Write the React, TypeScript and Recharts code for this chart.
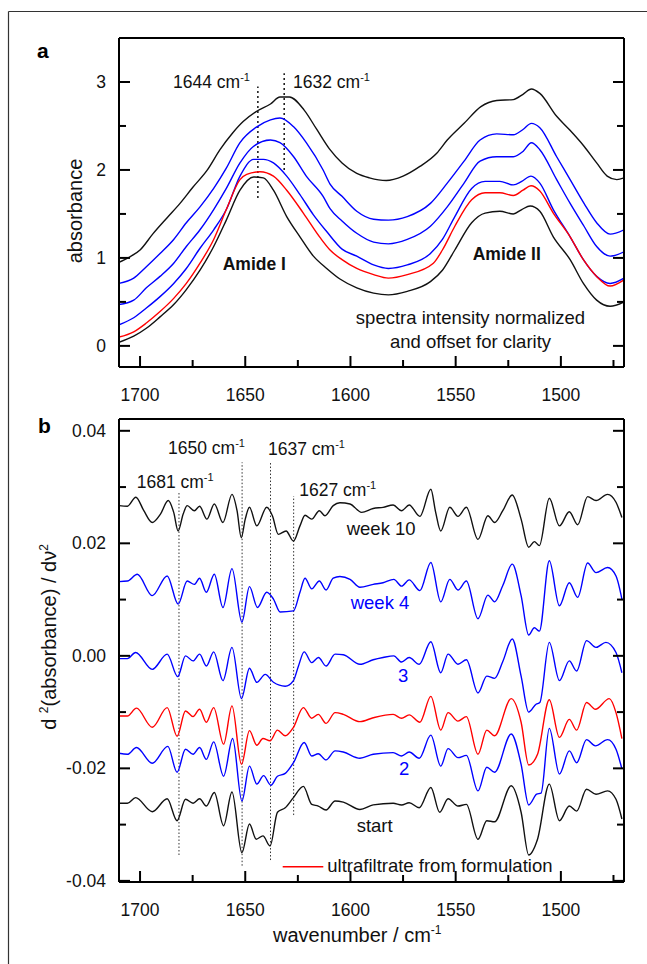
import React from 'react'
import { Line, LineChart, ReferenceLine, XAxis, YAxis } from 'recharts'

const FONT = '"Liberation Sans", Arial, Helvetica, sans-serif'
const INK = '#111111'
const BLUE = '#0000ff'
const RED = '#ff0000'

// axis ticks
const waveTicks = [1700, 1675, 1650, 1625, 1600, 1575, 1550, 1525, 1500, 1475]
const absTicks = [0, 0.5, 1, 1.5, 2, 2.5, 3]
const derivTicks = [-0.04, -0.03, -0.02, -0.01, 0, 0.01, 0.02, 0.03, 0.04]

type Pt = [number, number]

// panel a: absorbance spectra (wavenumber, absorbance)
const absTop: Pt[] = [
  [1710, 0.95], [1705, 1.01], [1700, 1.09], [1694, 1.27], [1687, 1.46], [1681, 1.62], [1675, 1.8],
  [1668, 2.0], [1662, 2.23], [1656, 2.42], [1651, 2.55], [1645, 2.66], [1638, 2.75], [1633.5, 2.83],
  [1629, 2.83], [1622, 2.68], [1616, 2.46], [1610, 2.24], [1604, 2.08], [1597, 1.96], [1591, 1.91],
  [1583, 1.88], [1575, 1.93], [1567, 2.04], [1559, 2.19], [1554, 2.34], [1546, 2.53], [1538, 2.72],
  [1530.5, 2.79], [1522.6, 2.8], [1518, 2.86], [1514, 2.92], [1510, 2.87], [1502, 2.61], [1496, 2.46],
  [1489, 2.27], [1483, 2.08], [1478, 1.93], [1473.4, 1.89], [1470, 1.91],
]
const absBlue1: Pt[] = [
  [1710, 0.71], [1703, 0.77], [1697, 0.9], [1690.5, 1.05], [1684, 1.21], [1678, 1.4], [1671.5, 1.58],
  [1665, 1.79], [1659, 2.02], [1652.5, 2.31], [1644.5, 2.49], [1638, 2.57], [1633.5, 2.59], [1627, 2.49],
  [1621, 2.31], [1613, 2.0], [1609.7, 1.84], [1604, 1.7], [1597, 1.53], [1589, 1.44], [1582, 1.43],
  [1573, 1.47], [1562, 1.62], [1554, 1.85], [1546, 2.1], [1538.4, 2.34], [1530.5, 2.41], [1522.6, 2.4],
  [1518, 2.46], [1514, 2.53], [1510, 2.48], [1502, 2.15], [1495.6, 1.89], [1489, 1.62], [1483, 1.4],
  [1476.6, 1.27], [1470, 1.32],
]
const absBlue2: Pt[] = [
  [1710, 0.47], [1703, 0.52], [1697, 0.66], [1690.5, 0.79], [1684, 0.94], [1678, 1.13], [1671.5, 1.32],
  [1665, 1.55], [1659, 1.79], [1652.5, 2.08], [1646, 2.27], [1638, 2.34], [1633.5, 2.31], [1627, 2.15],
  [1621, 1.93], [1613, 1.7], [1609.7, 1.56], [1604, 1.42], [1597, 1.28], [1589, 1.18], [1582, 1.16],
  [1573, 1.21], [1562, 1.36], [1554, 1.58], [1546, 1.85], [1538.4, 2.1], [1530.5, 2.15], [1522.6, 2.15],
  [1518, 2.21], [1514, 2.31], [1510, 2.23], [1502, 1.89], [1495.6, 1.62], [1489, 1.36], [1483, 1.13],
  [1476.6, 1.02], [1470, 1.07],
]
const absBlue3: Pt[] = [
  [1710, 0.24], [1703, 0.32], [1697, 0.43], [1690.5, 0.56], [1684, 0.71], [1678, 0.88], [1671.5, 1.11],
  [1665, 1.32], [1659, 1.55], [1652.5, 1.93], [1646, 2.12], [1641.4, 2.12], [1636.6, 2.08], [1630.3, 1.93],
  [1624, 1.72], [1617.6, 1.49], [1611.3, 1.3], [1604, 1.1], [1597, 1.02], [1589, 0.92], [1582, 0.88],
  [1573, 0.92], [1562, 1.05], [1556.3, 1.21], [1550.4, 1.47], [1542.4, 1.79], [1536, 1.87], [1529, 1.87],
  [1522.6, 1.83], [1518.6, 1.87], [1514.2, 1.93], [1510, 1.85], [1503.6, 1.55], [1495.6, 1.24],
  [1489.3, 0.98], [1483, 0.79], [1476.6, 0.71], [1470, 0.77],
]
const absRed: Pt[] = [
  [1710, 0.1], [1703, 0.16], [1697, 0.26], [1690.5, 0.39], [1684, 0.54], [1678, 0.71], [1671.5, 0.94],
  [1665, 1.21], [1659, 1.55], [1652.5, 1.89], [1649.3, 1.95], [1643, 1.98], [1636.6, 1.93], [1630.3, 1.77],
  [1622.4, 1.51], [1614.4, 1.23], [1609.7, 1.09], [1604, 0.98], [1597, 0.88], [1589, 0.81], [1582, 0.77],
  [1573, 0.81], [1560.6, 0.94], [1556.3, 1.09], [1550.4, 1.36], [1542.4, 1.66], [1536, 1.74], [1529, 1.74],
  [1522.6, 1.71], [1518, 1.77], [1514.2, 1.82], [1510, 1.76], [1503.6, 1.51], [1495.6, 1.24],
  [1489.3, 0.98], [1483, 0.79], [1476.6, 0.68], [1470, 0.75],
]
const absBottom: Pt[] = [
  [1710, 0.04], [1703, 0.11], [1697, 0.2], [1690.5, 0.33], [1684, 0.47], [1678, 0.64], [1671.5, 0.86],
  [1665, 1.13], [1659, 1.43], [1652.5, 1.77], [1646, 1.92], [1641.4, 1.91], [1636.6, 1.77], [1630.3, 1.47],
  [1624, 1.24], [1617.6, 1.02], [1611.3, 0.88], [1605, 0.76], [1597, 0.66], [1589, 0.6], [1582, 0.58],
  [1573, 0.62], [1562, 0.73], [1556.3, 0.86], [1550.4, 1.09], [1542.4, 1.4], [1536, 1.51], [1529, 1.53],
  [1522.6, 1.5], [1518.6, 1.55], [1514.6, 1.59], [1510, 1.53], [1503.6, 1.24], [1495.6, 0.98],
  [1489.3, 0.71], [1483, 0.52], [1476.6, 0.45], [1470, 0.5],
]

// panel b: second derivative spectra (wavenumber, d2A/dv2)
const derWeek10: Pt[] = [
  [1710, 0.0267], [1706, 0.0266], [1702, 0.0282], [1698.2, 0.0258], [1694.2, 0.0237], [1690.3, 0.0252],
  [1686.6, 0.0276], [1684, 0.0255], [1681.9, 0.0222], [1679.5, 0.0252], [1677.6, 0.0267], [1674.2, 0.0258],
  [1671.7, 0.0266], [1668.2, 0.0243], [1664.7, 0.027], [1660.6, 0.0237], [1656.3, 0.0287], [1653.9, 0.0258],
  [1651.9, 0.021], [1650, 0.0243], [1648, 0.0264], [1644.5, 0.0231], [1639.8, 0.0264], [1637.1, 0.0249],
  [1634.3, 0.0216], [1630.6, 0.0222], [1627.1, 0.0204], [1624, 0.0231], [1621.6, 0.025], [1618.4, 0.0243],
  [1614.8, 0.0258], [1612.1, 0.0249], [1608.2, 0.0267], [1605, 0.0272], [1600.2, 0.027], [1594.7, 0.0255],
  [1589.2, 0.0262], [1584.5, 0.0264], [1579.7, 0.0268], [1575.7, 0.0258], [1572.1, 0.0268], [1567, 0.0248],
  [1561.8, 0.0296], [1559.5, 0.0255], [1557.1, 0.0222], [1552.8, 0.0264], [1548.9, 0.0248], [1544.9, 0.0264],
  [1539.4, 0.0207], [1534.7, 0.0249], [1531.5, 0.0237], [1527.6, 0.0258], [1523.1, 0.0286], [1518.9, 0.0243],
  [1515.3, 0.0193], [1512.6, 0.0203], [1510.2, 0.0196], [1505.5, 0.028], [1500.7, 0.0231], [1496, 0.0256],
  [1492, 0.0233], [1487.3, 0.0283], [1483.3, 0.0276], [1477.8, 0.0287], [1473.8, 0.0273], [1471, 0.0246],
]
const derWeek4: Pt[] = [
  [1710, 0.0132], [1706, 0.0133], [1701.3, 0.0145], [1694.2, 0.0107], [1687.1, 0.0142], [1681.9, 0.0092],
  [1677.6, 0.0133], [1674.2, 0.0127], [1671.7, 0.0138], [1668.5, 0.0113], [1664.7, 0.0145], [1660.6, 0.0086],
  [1656.3, 0.0155], [1651.6, 0.006], [1648, 0.0123], [1644.2, 0.0086], [1639.8, 0.0113], [1636.6, 0.0101],
  [1633.4, 0.0078], [1627.1, 0.008], [1624, 0.0113], [1621.6, 0.0138], [1618.4, 0.0119], [1614.8, 0.0133],
  [1611.6, 0.0117], [1608.2, 0.0138], [1605, 0.0141], [1600.2, 0.0136], [1595.5, 0.0122], [1589.2, 0.0127],
  [1584.5, 0.013], [1579.4, 0.0136], [1575.7, 0.0124], [1572.1, 0.0135], [1567, 0.0116], [1561.8, 0.0166],
  [1557.1, 0.0096], [1552.8, 0.0136], [1548.9, 0.0117], [1544.9, 0.0133], [1539.4, 0.0066], [1534.7, 0.0108],
  [1531.5, 0.0096], [1527.6, 0.0125], [1523.1, 0.0163], [1518.9, 0.0107], [1515.3, 0.0037], [1512.6, 0.005],
  [1510.2, 0.0044], [1505.5, 0.0169], [1500.7, 0.0089], [1496, 0.013], [1492, 0.0104], [1487.3, 0.0165],
  [1483.3, 0.0148], [1477.8, 0.0157], [1473.8, 0.0142], [1471, 0.0101],
]
const derWeek3: Pt[] = [
  [1710, -0.0005], [1706, -0.0005], [1702.1, 0.0006], [1694.2, -0.0024], [1687.1, 0.0003], [1682.1, -0.0037],
  [1678.4, 0.0], [1674.8, -0.0009], [1671.7, 0.0003], [1668.5, -0.0018], [1665, 0.0007], [1660.6, -0.0044],
  [1656.3, 0.0015], [1651.8, -0.0076], [1648, -0.0022], [1644.5, -0.0047], [1640.5, -0.0033], [1636.6, -0.0047],
  [1631, -0.0054], [1627.1, -0.0044], [1624.7, -0.0018], [1622, 0.0007], [1618.4, -0.0012], [1615.2, -0.0003],
  [1611.6, -0.0018], [1607.3, 0.0003], [1603.4, 0.0002], [1595.5, -0.0015], [1589.2, -0.0007], [1584.5, -0.0003],
  [1579.4, 0.0], [1575.7, -0.0011], [1572.1, -0.0003], [1567.3, -0.0015], [1561.8, 0.0025], [1557.1, -0.003],
  [1553.6, 0.0003], [1548.9, -0.0015], [1544.9, -0.0007], [1539.4, -0.0066], [1535.2, -0.0036], [1531.5, -0.004],
  [1527.6, -0.001], [1523.1, 0.003], [1518.9, -0.0036], [1515.3, -0.01], [1511.8, -0.0086], [1510, -0.0083],
  [1505.5, 0.0024], [1500.7, -0.0044], [1496, -0.0009], [1492.5, -0.0027], [1487.8, 0.0027], [1483.3, 0.0015],
  [1478.6, 0.0024], [1473.8, 0.0006], [1471, -0.003],
]
const derFiltrate: Pt[] = [
  [1710, -0.0107], [1706, -0.0107], [1701.7, -0.0093], [1694.2, -0.0127], [1687.1, -0.0092], [1682.4, -0.0143],
  [1678.4, -0.0098], [1674.8, -0.0108], [1671.7, -0.0095], [1668.5, -0.0118], [1665, -0.0092], [1660.3, -0.0157],
  [1656.3, -0.0089], [1651.8, -0.0193], [1648, -0.0133], [1644.5, -0.0159], [1641.6, -0.0147], [1638.2, -0.0151],
  [1634.7, -0.0132], [1631, -0.0142], [1627.1, -0.0127], [1622.4, -0.0092], [1618.4, -0.0111], [1615.3, -0.0104],
  [1611.6, -0.012], [1607.3, -0.0101], [1603.4, -0.0104], [1595.5, -0.0117], [1589.2, -0.011], [1579.7, -0.0104],
  [1575.7, -0.0111], [1572.1, -0.0105], [1567, -0.0118], [1561.8, -0.0072], [1557.1, -0.0132], [1553.6, -0.0101],
  [1548.9, -0.0116], [1544.9, -0.0108], [1539.4, -0.0175], [1535.2, -0.0132], [1531.5, -0.0142], [1523.6, -0.0076],
  [1518.9, -0.0118], [1515.3, -0.0194], [1511.1, -0.0175], [1505.5, -0.0078], [1500.7, -0.0145], [1496, -0.0113],
  [1492.5, -0.0132], [1487.8, -0.0083], [1483.6, -0.0095], [1477, -0.0076], [1473.8, -0.0101], [1471, -0.0147],
]
const derWeek2: Pt[] = [
  [1710, -0.0173], [1706, -0.0175], [1701.7, -0.0163], [1694.2, -0.0191], [1686.8, -0.0161], [1682.4, -0.0207],
  [1678.4, -0.0166], [1674.8, -0.0175], [1671.7, -0.0163], [1668.5, -0.0184], [1665, -0.0153], [1660.3, -0.0214],
  [1656, -0.0147], [1651.6, -0.0258], [1648, -0.0196], [1644.5, -0.0228], [1641.3, -0.0213], [1637.8, -0.023],
  [1634.7, -0.0214], [1631, -0.0209], [1627.1, -0.019], [1622, -0.0154], [1618.4, -0.0178], [1615.3, -0.0174],
  [1611.6, -0.0185], [1607.3, -0.0169], [1603.4, -0.0171], [1595.5, -0.0182], [1589.2, -0.0175], [1579.7, -0.0172],
  [1575.7, -0.0178], [1572.1, -0.0171], [1567.3, -0.0182], [1561.8, -0.0141], [1557.1, -0.0196], [1553.6, -0.0165],
  [1548.9, -0.0181], [1544.9, -0.0177], [1539.4, -0.024], [1535.2, -0.0198], [1531.5, -0.0207], [1523.6, -0.0139],
  [1518.9, -0.0193], [1515.3, -0.0265], [1511.5, -0.0246], [1509.4, -0.0244], [1505.5, -0.0129], [1500.7, -0.021],
  [1496, -0.0169], [1492.5, -0.019], [1487.8, -0.0149], [1483.6, -0.016], [1477.8, -0.0149], [1473.8, -0.0166],
  [1471, -0.0201],
]
const derStart: Pt[] = [
  [1710, -0.0262], [1706, -0.0262], [1702.1, -0.0252], [1694.2, -0.0277], [1687.1, -0.0254], [1682.4, -0.0293],
  [1678.4, -0.0255], [1674.8, -0.0262], [1671.7, -0.0254], [1668.5, -0.0267], [1664.7, -0.0243], [1660.3, -0.0302],
  [1656.3, -0.0242], [1651.6, -0.035], [1648, -0.0299], [1644.8, -0.0326], [1641.6, -0.032], [1638.2, -0.0338],
  [1634.7, -0.0278], [1631, -0.027], [1627.1, -0.0252], [1622.4, -0.0232], [1618.4, -0.0264], [1615.3, -0.0267],
  [1611.6, -0.0274], [1607.3, -0.0258], [1603.4, -0.026], [1595.5, -0.0273], [1589.2, -0.0265], [1579.7, -0.0262],
  [1575.7, -0.0265], [1572.1, -0.0261], [1567.3, -0.027], [1561.8, -0.0234], [1557.6, -0.0278], [1553.6, -0.0254],
  [1548.9, -0.0267], [1544.9, -0.0264], [1539.4, -0.0326], [1535.2, -0.0293], [1531.5, -0.0295], [1523.6, -0.0231],
  [1518.9, -0.0278], [1515.3, -0.0354], [1511.1, -0.0326], [1505.5, -0.0228], [1500.7, -0.0293], [1496, -0.0267],
  [1492.5, -0.0276], [1487.8, -0.0237], [1483.3, -0.0246], [1477.8, -0.024], [1473.8, -0.0255], [1471, -0.029],
]

// dotted marker lines: wavenumber and vertical extent
const absMarks = [
  { wn: 1644, lo: 1.68, hi: 2.95 },
  { wn: 1631.5, lo: 2.0, hi: 3.1 },
]
const derMarks = [
  { wn: 1681.5, lo: -0.0354, hi: 0.029 },
  { wn: 1651.5, lo: -0.0373, hi: 0.0344 },
  { wn: 1638, lo: -0.0363, hi: 0.0344 },
  { wn: 1627, lo: -0.0283, hi: 0.0284 },
]

const absSeries = [
  { name: 'a1', color: INK, pts: absTop },
  { name: 'a2', color: BLUE, pts: absBlue1 },
  { name: 'a3', color: BLUE, pts: absBlue2 },
  { name: 'a4', color: BLUE, pts: absBlue3 },
  { name: 'a5', color: RED, pts: absRed },
  { name: 'a6', color: INK, pts: absBottom },
]
const derSeries = [
  { name: 'week 10', color: INK, pts: derWeek10 },
  { name: 'week 4', color: BLUE, pts: derWeek4 },
  { name: '3', color: BLUE, pts: derWeek3 },
  { name: 'ultrafiltrate', color: RED, pts: derFiltrate },
  { name: '2', color: BLUE, pts: derWeek2 },
  { name: 'start', color: INK, pts: derStart },
]

const toRows = (pts: Pt[]) => pts.map(([wn, y]) => ({ wn, y }))

const TICK_FONT = 17.5
const MAJOR = 11
const MINOR = 7

type Side = 'bottom' | 'top' | 'left' | 'right'

// inward ticks at the axis' own tick positions, long on labelled values
function makeTick(side: Side, isMajor: (v: number) => boolean, fmt?: (v: number) => string) {
  return (props: any) => {
    const x = Number(props.x)
    const y = Number(props.y)
    const v = Number(props.payload.value)
    const big = isMajor(v)
    const len = big ? MAJOR : MINOR
    let d = ''
    if (side === 'bottom') d = `M${x},${y}V${y - len}`
    else if (side === 'top') d = `M${x},${y}V${y + len}`
    else if (side === 'left') d = `M${x},${y}H${x + len}`
    else d = `M${x},${y}H${x - len}`
    let label = null
    if (fmt && big) {
      label =
        side === 'bottom' ? (
          <text x={x} y={y + 34} textAnchor="middle" fontSize={TICK_FONT} fontFamily={FONT} fill={INK}>
            {fmt(v)}
          </text>
        ) : (
          <text x={x - 13} y={y + 6} textAnchor="end" fontSize={TICK_FONT} fontFamily={FONT} fill={INK}>
            {fmt(v)}
          </text>
        )
    }
    return (
      <g>
        <path d={d} stroke="#000" strokeWidth={2} fill="none" />
        {label}
      </g>
    )
  }
}

const waveMajor = (v: number) => v % 50 === 0
const absMajor = (v: number) => Number.isInteger(v)
const derMajor = (v: number) => Math.abs(Math.round(v * 100)) % 2 === 0

const frame = { stroke: '#000', strokeWidth: 2 }
const WAVE_DOMAIN: [number, number] = [1470, 1710]

function boxAxes(
  yDomain: [number, number],
  yTicks: number[],
  yMajor: (v: number) => boolean,
  yFmt: (v: number) => string,
  bottomHeight: number,
) {
  const xs = { type: 'number' as const, domain: WAVE_DOMAIN, reversed: true, allowDataOverflow: true, interval: 0 as const }
  const ys = { type: 'number' as const, domain: yDomain, allowDataOverflow: true, interval: 0 as const }
  const bare = { tickSize: 0, tickMargin: 0, tickLine: false, axisLine: frame }
  return [
    <XAxis key="b" xAxisId="b" dataKey="wn" {...xs} {...bare} ticks={waveTicks} height={bottomHeight}
      tick={makeTick('bottom', waveMajor, (v) => String(v))} />,
    <XAxis key="t" xAxisId="t" orientation="top" {...xs} {...bare} ticks={waveTicks} height={1}
      tick={makeTick('top', waveMajor)} />,
    <YAxis key="l" yAxisId="l" {...ys} {...bare} ticks={yTicks} width={40} tick={makeTick('left', yMajor, yFmt)} />,
    <YAxis key="r" yAxisId="r" orientation="right" {...ys} {...bare} ticks={yTicks} width={1}
      tick={makeTick('right', yMajor)} />,
  ]
}

function Sup({ children }: { children: React.ReactNode }) {
  return (
    <tspan dy={-7} fontSize={11}>
      {children}
    </tspan>
  )
}

function WaveLabel({ x, y, n }: { x: number; y: number; n: string }) {
  return (
    <text x={x} y={y} fontSize={17.5} fontFamily={FONT} fill={INK}>
      {n} cm<Sup>-1</Sup>
    </text>
  )
}

export default function App() {
  const W = 647
  return (
    <div style={{ position: 'absolute', left: 0, top: 0, width: W, height: 964, background: '#fff', fontFamily: FONT }}>
      <div style={{ position: 'absolute', left: 0, top: 0 }}>
        <LineChart width={W} height={405} margin={{ top: 37, right: 22, bottom: 3, left: 79 }}>
          {boxAxes([-0.24, 3.5], absTicks, absMajor, (v) => String(v), 35)}
          {absMarks.map((m) => (
            <ReferenceLine
              key={m.wn}
              xAxisId="b"
              yAxisId="l"
              segment={[
                { x: m.wn, y: m.lo },
                { x: m.wn, y: m.hi },
              ]}
              stroke="#000"
              strokeWidth={1.4}
              strokeDasharray="2 3"
            />
          ))}
          {absSeries.map((s) => (
            <Line
              key={s.name}
              xAxisId="b"
              yAxisId="l"
              data={toRows(s.pts)}
              dataKey="y"
              type="monotone"
              stroke={s.color}
              strokeWidth={1.4}
              dot={false}
              activeDot={false}
              isAnimationActive={false}
            />
          ))}
        </LineChart>
      </div>
      <div style={{ position: 'absolute', left: 0, top: 405 }}>
        <LineChart width={W} height={559} margin={{ top: 13, right: 22, bottom: 32, left: 79 }}>
          {boxAxes([-0.0402, 0.0421], derivTicks, derMajor, (v) => v.toFixed(2), 50)}
          {derMarks.map((m) => (
            <ReferenceLine
              key={m.wn}
              xAxisId="b"
              yAxisId="l"
              segment={[
                { x: m.wn, y: m.lo },
                { x: m.wn, y: m.hi },
              ]}
              stroke="#333"
              strokeWidth={1}
              strokeDasharray="1.5 2"
            />
          ))}
          {derSeries.map((s) => (
            <Line
              key={s.name}
              xAxisId="b"
              yAxisId="l"
              data={toRows(s.pts)}
              dataKey="y"
              type="monotone"
              stroke={s.color}
              strokeWidth={1.4}
              dot={false}
              activeDot={false}
              isAnimationActive={false}
            />
          ))}
        </LineChart>
      </div>
      <svg
        width={W}
        height={964}
        style={{ position: 'absolute', left: 0, top: 0, pointerEvents: 'none' }}
        fontFamily={FONT}
      >
        {/* outer figure border */}
        <line x1={8.5} y1={11.5} x2={W} y2={11.5} stroke="#333" strokeWidth={1.2} />
        <line x1={8.5} y1={11.5} x2={8.5} y2={964} stroke="#333" strokeWidth={1.2} />

        {/* panel letters */}
        <text x={37} y={58} fontSize={21} fontWeight="bold" fill="#000">a</text>
        <text x={38} y={433} fontSize={21} fontWeight="bold" fill="#000">b</text>

        {/* panel a */}
        <text x={82} y={211} fontSize={20} fill={INK} textAnchor="middle" transform="rotate(-90 82 211)">
          absorbance
        </text>
        <WaveLabel x={173} y={88} n="1644" />
        <WaveLabel x={293} y={88} n="1632" />
        <text x={222.7} y={270} fontSize={17.5} fontWeight="bold" fill={INK}>Amide I</text>
        <text x={472.7} y={260} fontSize={17.5} fontWeight="bold" fill={INK}>Amide II</text>
        <text x={470.5} y={324} fontSize={18.5} fill={INK} textAnchor="middle">spectra intensity normalized</text>
        <text x={470.5} y={348} fontSize={18.5} fill={INK} textAnchor="middle">and offset for clarity</text>

        {/* panel b */}
        <text x={56} y={637} fontSize={20} fill={INK} textAnchor="middle" transform="rotate(-90 56 637)">
          d <tspan dy={-8} fontSize={12}>2</tspan>
          <tspan dy={8}>(absorbance) / dν</tspan>
          <tspan dy={-8} fontSize={12}>2</tspan>
        </text>
        <WaveLabel x={168} y={454} n="1650" />
        <WaveLabel x={268} y={455} n="1637" />
        <WaveLabel x={136.7} y={488} n="1681" />
        <WaveLabel x={299.3} y={496} n="1627" />
        <text x={346.7} y={535} fontSize={18.5} fill={INK}>week 10</text>
        <text x={350.7} y={609} fontSize={18.5} fill={BLUE}>week 4</text>
        <text x={398} y={682} fontSize={18.5} fill={BLUE}>3</text>
        <text x={399} y={775} fontSize={18.5} fill={BLUE}>2</text>
        <text x={356.7} y={832} fontSize={18.5} fill={INK}>start</text>
        <line x1={282.7} y1={866.7} x2={323.3} y2={866.7} stroke={RED} strokeWidth={1.6} />
        <text x={327.3} y={872} fontSize={18.5} fill={INK}>ultrafiltrate from formulation</text>
        <text x={273} y={942} fontSize={20} fill={INK}>
          wavenumber / cm<tspan dy={-8} fontSize={12}>-1</tspan>
        </text>
      </svg>
    </div>
  )
}
